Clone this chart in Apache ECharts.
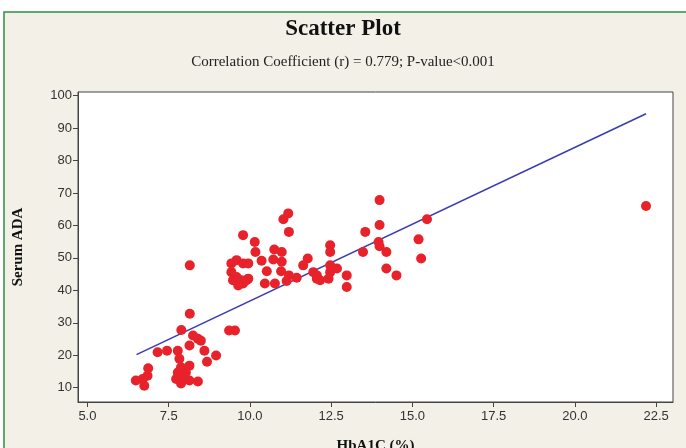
<!DOCTYPE html>
<html>
<head>
<meta charset="utf-8">
<script src="https://cdn.jsdelivr.net/npm/echarts@6/dist/echarts.min.js"></script>
<style>
html,body{margin:0;padding:0;background:#ffffff;}
#chart{width:686px;height:448px;}
</style>
</head>
<body>
<div id="chart"></div>
<script>
// HbA1C (%) values
const hba1c = [
  6.49, 6.70, 6.75, 6.85, 6.87, 7.16, 7.45, 7.78, 8.14, 8.40, 8.60, 8.68, 8.96,
  7.83, 7.88, 7.78, 8.03, 7.73, 7.93, 8.14, 8.40, 7.88, 8.14,
  8.15, 7.89, 8.25, 8.49, 8.15,
  9.36, 9.54,
  9.43, 9.59, 9.79, 9.95, 9.43, 9.59, 9.74, 9.90, 9.48, 9.64, 9.79, 9.95, 9.79,
  10.15, 10.17, 10.36, 10.52, 10.46, 10.77, 10.72, 10.75, 10.98, 10.98, 10.96,
  11.03, 11.18, 11.20, 11.20, 11.13, 11.44, 11.64, 11.78, 11.95, 12.06,
  12.47, 12.47, 12.47, 12.68, 12.47, 12.42, 12.16, 12.06, 12.98, 12.98,
  13.48, 13.55, 13.99, 13.99, 13.96, 13.99, 14.20, 14.20, 14.51,
  15.19, 15.27, 15.45, 22.19
];
// Serum ADA values
const serumADA = [
  12.2, 12.7, 10.6, 13.7, 16.0, 20.9, 21.4, 21.4, 23.0, 25.1, 21.4, 18.0, 19.9,
  18.9, 16.3, 14.7, 14.7, 12.7, 12.7, 12.2, 11.9, 11.3, 16.8,
  32.8, 27.8, 26.1, 24.5, 47.7,
  27.6, 27.6,
  48.3, 49.3, 48.3, 48.3, 45.6, 44.1, 43.1, 43.1, 43.1, 41.5, 42.1, 43.6, 57.0,
  54.9, 51.8, 49.1, 45.9, 42.1, 42.1, 49.5, 52.6, 51.8, 48.8, 45.9,
  61.9, 63.7, 58.0, 44.6, 42.9, 43.9, 47.7, 49.8, 45.6, 43.6,
  53.9, 51.8, 47.7, 46.7, 45.6, 43.6, 43.1, 44.6, 44.6, 41.0,
  51.8, 58.0, 67.8, 60.1, 54.9, 53.6, 51.8, 46.7, 44.6,
  55.7, 49.8, 61.9, 66.0
];
// Fitted line endpoints
const fitX = [6.51, 22.19];
const fitY = [20.2, 94.4];
// Tick labels
const xTicks = [5.0, 7.5, 10.0, 12.5, 15.0, 17.5, 20.0, 22.5];
const yTicks = [10, 20, 30, 40, 50, 60, 70, 80, 90, 100];

const points = hba1c.map((x, i) => [x, serumADA[i]]);
const fitLine = fitX.map((x, i) => [x, fitY[i]]);

const chart = echarts.init(document.getElementById('chart'), null, {renderer: 'canvas'});
const serif = '"Liberation Serif", "Times New Roman", serif';
const sans = '"Liberation Sans", Arial, sans-serif';

chart.setOption({
  backgroundColor: '#ffffff',
  animation: false,
  graphic: [
    {
      type: 'rect', z: -10, silent: true,
      shape: {x: 4, y: 12, width: 700, height: 460},
      style: {fill: '#F2F0E7', stroke: '#2F8F3F', lineWidth: 1.5}
    }
  ],
  title: [
    {
      text: 'Scatter Plot', left: 'center', top: 13,
      textStyle: {fontFamily: serif, fontWeight: 'bold', fontSize: 23, color: '#111'}
    },
    {
      text: 'Correlation Coefficient (r) = 0.779; P-value<0.001', left: 'center', top: 50,
      textStyle: {fontFamily: serif, fontWeight: 'normal', fontSize: 15, color: '#222'}
    }
  ],
  grid: {
    left: 78, top: 92, right: 13, bottom: 46,
    outerBoundsMode: 'none', containLabel: false,
    show: true, backgroundColor: '#ffffff', borderColor: '#444', borderWidth: 1
  },
  xAxis: {
    type: 'value', min: 4.71, max: 23.02,
    name: 'HbA1C (%)', nameLocation: 'middle', nameGap: 37,
    nameTextStyle: {fontFamily: serif, fontWeight: 'bold', fontSize: 15, color: '#111'},
    axisLine: {show: true, onZero: false, lineStyle: {color: '#444'}},
    axisTick: {show: true, length: 5, customValues: xTicks, lineStyle: {color: '#444'}},
    axisLabel: {
      customValues: xTicks, fontFamily: sans, fontSize: 13, color: '#333', margin: 8,
      formatter: v => Number(v).toFixed(1)
    },
    splitLine: {show: false}
  },
  yAxis: {
    type: 'value', min: 5.6, max: 101.1,
    name: 'Serum ADA', nameLocation: 'middle', nameGap: 52, nameRotate: 90,
    nameTextStyle: {fontFamily: serif, fontWeight: 'bold', fontSize: 15, color: '#111'},
    axisLine: {show: true, onZero: false, lineStyle: {color: '#444'}},
    axisTick: {show: true, length: 5, customValues: yTicks, lineStyle: {color: '#444'}},
    axisLabel: {customValues: yTicks, fontFamily: sans, fontSize: 13, color: '#333', margin: 6},
    splitLine: {show: false}
  },
  series: [
    {
      type: 'line', data: fitLine, symbol: 'none', silent: true,
      lineStyle: {color: '#3A3AB5', width: 1.5}, z: 3
    },
    {
      type: 'scatter', data: points, symbol: 'circle', symbolSize: 10,
      itemStyle: {color: '#E8222B', opacity: 1}, z: 4
    }
  ]
});
</script>
</body>
</html>
